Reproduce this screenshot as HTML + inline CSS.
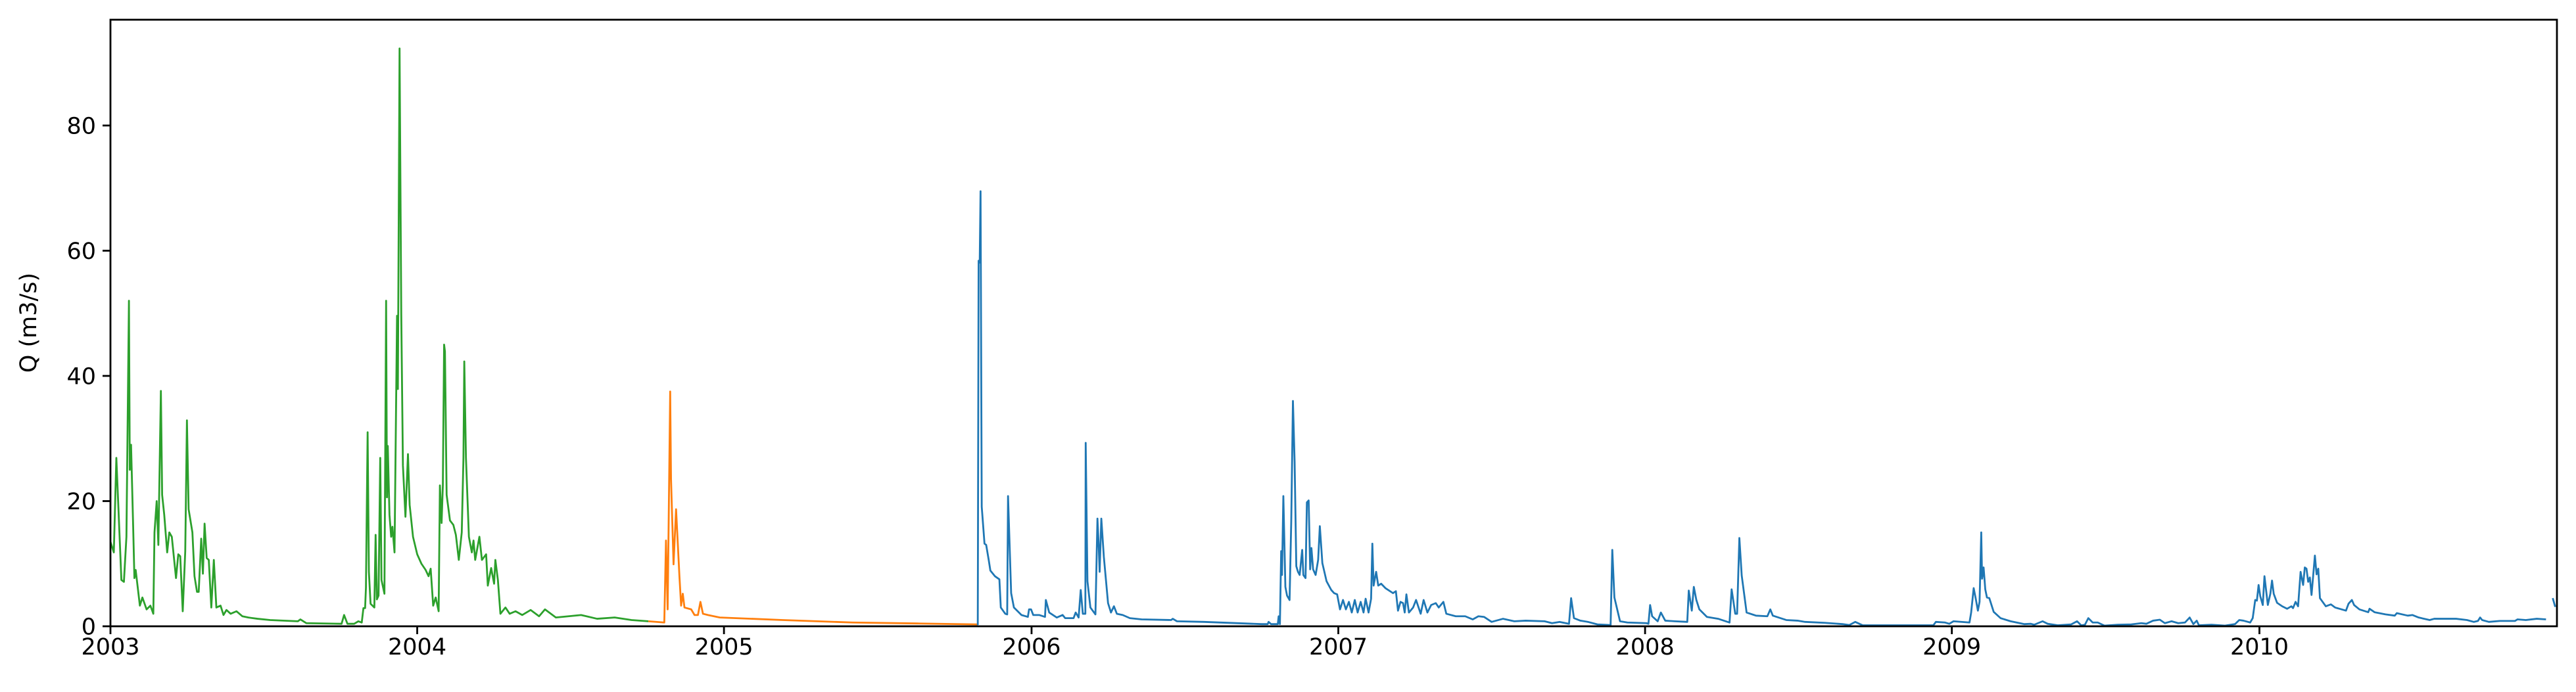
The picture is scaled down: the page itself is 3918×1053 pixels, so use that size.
<!DOCTYPE html>
<html><head><meta charset="utf-8"><style>
html,body{margin:0;padding:0;background:#fff;}
svg{display:block;}
text{font-family:"DejaVu Sans","Liberation Sans",sans-serif;font-size:35px;fill:#000;}
</style></head><body>
<svg id="chart" width="3918" height="1053" viewBox="0 0 3918 1053" xmlns="http://www.w3.org/2000/svg">
<defs><clipPath id="plotclip"><rect x="168" y="30" width="3721" height="923"/></clipPath></defs>
<rect x="0" y="0" width="3918" height="1053" fill="#fff"/>
<g id="series" clip-path="url(#plotclip)"></g>
<g id="axes"></g>
<text transform="translate(55,491) rotate(-90)" text-anchor="middle">Q (m3/s)</text>
</svg>
<script>
const xTickDays = [0,365,730,1096,1461,1826,2191,2557];
const xTickLabels = ["2003","2004","2005","2006","2007","2008","2009","2010"];
const yTicks = [0,20,40,60,80];

const greenDays = [
0,4,7,13,16,19,22,23,24.5,27,
28.5,30,35,38,43,47.5,51,52.4,55,57,
60,61.5,64,67.5,70,73,78,80.7,83,86,
89,91,93,97.5,100,103,105,108,110,112,
114.5,117,120,123,126,131,134.5,138,143,150,
157,164,175,190,223,226,233,275,278,282,
290,295,299,301,303,304,306,307.5,309.5,314,
315.5,317,319,321,322.5,326,328,329,330,332,
334,335.5,338,341,342,344,346,348,351,354,
356,360,365,370,375,378.5,381,384,387,390.5,
392,394,395.5,397,398,400,404,408,411,414.5,
418,420,421,423,426.5,430,432,434,439,442,
447,449,453,456.5,458,461,464,470,475,482,
490,500,510,517,530,545,560,579,600,620,
640];
const greenVals = [
13.5,11.8,26.9,7.4,7.1,14.3,52,25,29,16,
7.7,9,3.3,4.6,2.7,3.3,2,15,20,13,
37.6,21,17.8,11.8,15,14.3,7.7,11.5,11.2,2.4,
12,32.9,18.7,15,8,5.5,5.5,14,8.4,16.4,
10.9,10.6,3,10.6,3,3.3,1.8,2.6,2,2.4,
1.6,1.4,1.2,1.0,0.8,1.1,0.5,0.4,1.8,0.4,
0.4,0.8,0.6,2.9,2.9,6.2,31,8.7,3.6,3,
14.6,4.3,4.9,26.9,7.4,5.2,52,20.6,28.8,17.8,
14.3,15.9,11.8,49.6,37.9,92.3,50,25.7,17.5,27.5,
19.4,14.3,11.5,10,9,8,9.2,3.3,4.6,2.4,
22.5,16.5,22.5,45,43.9,21,16.9,16.2,14.6,10.6,
15,26.9,42.3,26.9,14.3,11.8,13.7,10.6,14.3,10.6,
11.5,6.5,9.3,6.8,10.6,7.4,2,3,2,2.4,
1.8,2.6,1.6,2.7,1.4,1.6,1.8,1.2,1.4,1.0,
0.8];

const orangeDays = [640,659,661,663,666,667,670,673,677,679,681,683,691,695,699,702,705,711,725,800,883,960,1032];
const orangeVals = [0.8,0.6,13.7,2.7,37.5,23.5,9.9,18.7,8,3.3,5.2,3,2.7,1.8,1.8,3.9,2,1.8,1.4,1.0,0.6,0.45,0.3];

const blueDays = [
1032,1033,1034.3,1035.3,1036.7,1040,1042,1045,1047,1052.4,
1057.7,1059.4,1064.7,1067,1068,1071.7,1075,1084,1091.6,1093,
1095.4,1098,1105,1112,1113,1117,1126,1133,1136,1146,
1148.5,1152,1154.5,1157,1160,1160.4,1162.5,1166,1172,1174.4,
1176,1177,1179,1182,1187,1190.5,1194,1197.5,1204.5,1213,
1227,1262,1264,1269,1301,1370,1377,1378,1381,1389,
1390,1391.5,1393,1394,1395.6,1398,1400,1403,1405,1407,
1409,1411,1413,1415,1418,1419.4,1422,1423.6,1425.7,1427.5,
1429,1431,1434,1437,1439,1442,1447,1452.6,1456,1459.6,
1463,1466.6,1470,1473.6,1477,1480.6,1484,1487.6,1491,1493.5,
1497,1500,1501.5,1503,1506,1508.5,1512,1517,1526,1529.5,
1532,1535,1538,1540,1542,1545,1550,1553.5,1559,1562.5,
1567,1571.5,1577,1580.5,1586,1589.5,1600.7,1612,1621,1627.7,
1634.4,1643.4,1657,1670.4,1684,1706.4,1715.3,1724.3,1735.5,1738,
1741.4,1749,1758,1769.3,1785,1787,1789.5,1796.2,1805,1827.7,
1830,1832,1834.4,1841,1844.8,1850,1861.4,1876.2,1878,1881.6,
1884,1887,1890.6,1899.6,1913,1926.5,1929,1933.3,1935.5,1938.2,
1941,1946.8,1958,1971.5,1975,1978,1994,2007.4,2016.4,2040,
2061,2069,2076,2085,2169,2172,2183,2188,2193,2212,
2214,2217,2219.6,2222,2224,2226,2227,2228.8,2230.8,2232.8,
2235.6,2240.8,2249,2261,2277,2285,2289,2299,2305,2317,
2333,2340,2345,2349.4,2353.4,2358.6,2364.6,2372.6,2388.5,2404.5,
2416.5,2422.5,2430.5,2438.5,2444.5,2452.5,2460.4,2468.4,2474,2478.4,
2482.4,2485,2500,2516,2528,2533,2538,2546,2549,2552,
2554,2556,2558,2561,2563,2567,2570,2572,2574,2578,
2584,2590,2595,2597,2600,2603,2606,2609,2611,2613,
2615,2617,2619,2623,2625,2627,2629,2636,2642,2647,
2660,2663,2667,2669.6,2676,2686.5,2688,2694,2707,2718,
2720.5,2733.5,2739,2746.5,2759.6,2765,2791,2804,2812,2817,
2819.6,2822,2830,2843,2861,2864,2874,2887,2898];
const blueVals = [
0.2,58.4,58.1,69.5,19.1,13.2,13,10.6,8.9,8,
7.5,3,2,1.9,20.8,5.3,3,1.8,1.5,2.7,
2.7,1.8,1.8,1.5,4.2,2.2,1.4,1.8,1.3,1.3,
2.2,1.4,5.8,2,2,29.3,7.2,3,1.9,17.2,
12.5,8.7,17.2,11.1,3.7,2.2,3.2,2,1.8,1.3,
1.1,1,1.2,0.8,0.7,0.35,0.35,0.7,0.35,0.35,
1.6,0.35,12,8.2,20.8,6.3,4.9,4.2,16.8,36,
26.3,9.6,8.7,8.2,12.2,8.2,7.7,19.8,20.1,9.1,
12.5,9.1,8.2,10.6,16,10.1,7.2,5.8,5.3,5.1,
2.7,4.2,2.7,3.9,2.2,4.2,2.2,3.9,2.2,4.4,
2.2,4.4,13.2,6.5,8.7,6.5,6.8,6.1,5.3,5.6,
2.5,3.9,3.7,2.2,5.1,2.2,3,4.2,2,4.2,
2.2,3.4,3.7,3,3.9,2,1.6,1.6,1.1,1.6,
1.5,0.7,1.2,0.8,0.9,0.8,0.5,0.7,0.4,4.5,
1.3,0.9,0.7,0.3,0.2,12.2,4.6,0.8,0.6,0.5,
0.4,3.4,1.6,0.8,2.2,0.9,0.8,0.7,5.7,2.5,
6.3,4.2,2.7,1.5,1.2,0.6,5.9,2,2,14.1,
8.1,2.2,1.7,1.6,2.7,1.7,1,0.9,0.7,0.55,
0.35,0.2,0.7,0.15,0.15,0.7,0.6,0.4,0.8,0.6,
2.2,6.1,4.3,2.5,3.9,15,7.6,9.4,5.9,4.6,
4.5,2.3,1.3,0.8,0.35,0.4,0.25,0.8,0.4,0.15,
0.3,0.8,0.15,0.25,1.3,0.6,0.6,0.1,0.25,0.3,
0.5,0.4,0.9,1.05,0.5,0.8,0.5,0.6,1.4,0.35,
0.9,0.15,0.25,0.1,0.35,1,0.9,0.6,1.3,4.2,
4.1,6.6,4.8,3.4,8,3.4,5.2,7.3,5.2,3.75,
3.2,2.8,3.2,2.9,3.9,3.2,8.7,6.6,9.4,9.2,
7.1,7.8,5,11.3,8.3,9.2,4.5,3.2,3.5,3.0,
2.5,3.6,4.2,3.4,2.7,2.25,2.8,2.25,1.9,1.7,
2.1,1.7,1.8,1.4,1,1.2,1.2,1,0.7,0.85,
1.4,1,0.7,0.85,0.85,1.1,1,1.2,1.1];
const blueTailDays = [2906,2909];
const blueTailVals = [4.5,3.1];

const X0 = 168, X1 = 3889, Y0 = 953, Y1 = 30;
const DMAX = 2911, VMAX = 96.9;
function xs(d){ return X0 + (d / DMAX) * (X1 - X0); }
function ys(v){ return Y0 - (v / VMAX) * (Y0 - Y1); }
const NS = "http://www.w3.org/2000/svg";

function drawLine(days, vals, color, name){
  let d = "";
  for (let i = 0; i < days.length; i++){
    d += (i ? "L" : "M") + xs(days[i]).toFixed(2) + "," + ys(vals[i]).toFixed(2);
  }
  const p = document.createElementNS(NS, "path");
  p.setAttribute("d", d);
  p.setAttribute("fill", "none");
  p.setAttribute("stroke", color);
  p.setAttribute("stroke-width", "2.8");
  p.setAttribute("stroke-linejoin", "round");
  
  
  document.getElementById("series").appendChild(p);
}
drawLine(greenDays, greenVals, "#2ca02c", "series-green-line");
drawLine(orangeDays, orangeVals, "#ff7f0e", "series-orange-line");
drawLine(blueDays, blueVals, "#1f77b4", "series-blue-line");
drawLine(blueTailDays, blueTailVals, "#1f77b4", "series-blue-tail-line");

const ax = document.getElementById("axes");
const frame = document.createElementNS(NS, "rect");
frame.setAttribute("x", X0); frame.setAttribute("y", Y1);
frame.setAttribute("width", X1 - X0); frame.setAttribute("height", Y0 - Y1);
frame.setAttribute("fill", "none"); frame.setAttribute("stroke", "#000"); frame.setAttribute("stroke-width", "2.8");


ax.appendChild(frame);

for (let i = 0; i < xTickDays.length; i++){
  const x = xs(xTickDays[i]);
  const t = document.createElementNS(NS, "line");
  t.setAttribute("x1", x); t.setAttribute("x2", x);
  t.setAttribute("y1", Y0); t.setAttribute("y2", Y0 + 12);
  t.setAttribute("stroke", "#000"); t.setAttribute("stroke-width", "2.8");
  
  
  ax.appendChild(t);
  const l = document.createElementNS(NS, "text");
  l.setAttribute("x", x); l.setAttribute("y", 996);
  l.setAttribute("text-anchor", "middle");
  l.textContent = xTickLabels[i];
  
  
  ax.appendChild(l);
}
for (let i = 0; i < yTicks.length; i++){
  const y = ys(yTicks[i]);
  const t = document.createElementNS(NS, "line");
  t.setAttribute("x1", X0 - 12); t.setAttribute("x2", X0);
  t.setAttribute("y1", y); t.setAttribute("y2", y);
  t.setAttribute("stroke", "#000"); t.setAttribute("stroke-width", "2.8");
  
  
  ax.appendChild(t);
  const l = document.createElementNS(NS, "text");
  l.setAttribute("x", X0 - 22); l.setAttribute("y", y + 12.5);
  l.setAttribute("text-anchor", "end");
  l.textContent = String(yTicks[i]);
  
  
  ax.appendChild(l);
}
</script>
</body></html>
